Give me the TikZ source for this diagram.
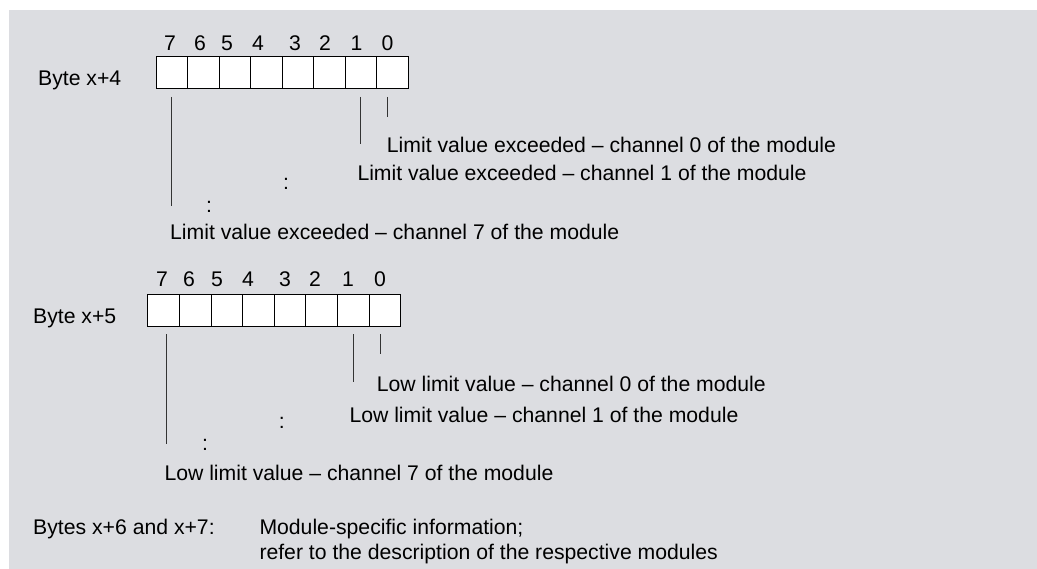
\documentclass[tikz,border=0pt]{standalone}
\usepackage{fontspec}
\setmainfont{Liberation Sans}
\definecolor{panel}{RGB}{220,221,225}
\tikzset{
    bitcell/.style={draw, fill=white, line width=1.1pt, inner sep=0pt, minimum width=31.5pt, minimum height=32pt, anchor=north west},
    lead/.style={line width=1pt, black!80},
    txt/.style={anchor=base west, inner sep=0pt},
    num/.style={anchor=base, inner sep=0pt}
}
\begin{document}
\begin{tikzpicture}[x=1pt, y=-1pt, font=\fontsize{21.2}{25.4}\selectfont]
    \useasboundingbox (0,0) rectangle (1037,569);
    \fill[panel] (9,10) rectangle (1037,569);
    % byte x+4
    \node[txt] (b4) at (38,86) {Byte x+4};
    \foreach \b/\x in {7/170,6/200,5/227,4/258,3/295,2/325,1/356.5,0/387.5} {
        \node[num] (n4\b) at (\x,51) {\b};
        \node[bitcell] (c4\b) at ({155.5+(7-\b)*31.5},56) {};
    }
    \draw[lead] ([yshift=-7.7pt]c47.south) -- ++(0,109);
    \draw[lead] ([yshift=-7.7pt]c41.south) -- ++(0,47);
    \draw[lead] ([xshift=-4.4pt,yshift=-7.7pt]c40.south) -- ++(0,20);
    \node[txt] (l40) at (386.7,152.3) {Limit value exceeded -- channel 0 of the module};
    \node[txt] (l41) at (357.3,180.7) {Limit value exceeded -- channel 1 of the module};
    \node[num] (d41) at (286,190) {:};
    \node[num] (d42) at (209,212.7) {:};
    \node[txt] (l47) at (170,240) {Limit value exceeded -- channel 7 of the module};
    % byte x+5
    \begin{scope}[bitcell/.append style={minimum width=31.6pt, minimum height=31.7pt}]
        \node[txt] (b5) at (33,324) {Byte x+5};
        \foreach \b/\x in {7/162,6/189,5/217,4/248,3/285,2/315,1/348,0/380} {
            \node[num] (n5\b) at (\x,287) {\b};
            \node[bitcell] (c5\b) at ({147.3+(7-\b)*31.6},294.3) {};
        }
        \draw[lead] ([xshift=2.9pt,yshift=-7pt]c57.south) -- ++(0,110);
        \draw[lead] ([yshift=-7pt]c51.south) -- ++(0,48);
        \draw[lead] ([xshift=-4.3pt,yshift=-7pt]c50.south) -- ++(0,20);
        \node[txt] (l50) at (376.7,391.7) {Low limit value -- channel 0 of the module};
        \node[txt] (l51) at (349.3,422.3) {Low limit value -- channel 1 of the module};
        \node[num] (d51) at (281.7,428.3) {:};
        \node[num] (d52) at (205,450.7) {:};
        \node[txt] (l57) at (164.3,480) {Low limit value -- channel 7 of the module};
    \end{scope}
    % bytes x+6 and x+7
    \node[txt] (b67) at (33,534) {Bytes x+6 and x+7:};
    \node[txt] (m1) at (259.3,534) {Module-specific information;};
    \node[txt] (m2) at (259.3,559.3) {refer to the description of the respective modules};
\end{tikzpicture}
\end{document}
